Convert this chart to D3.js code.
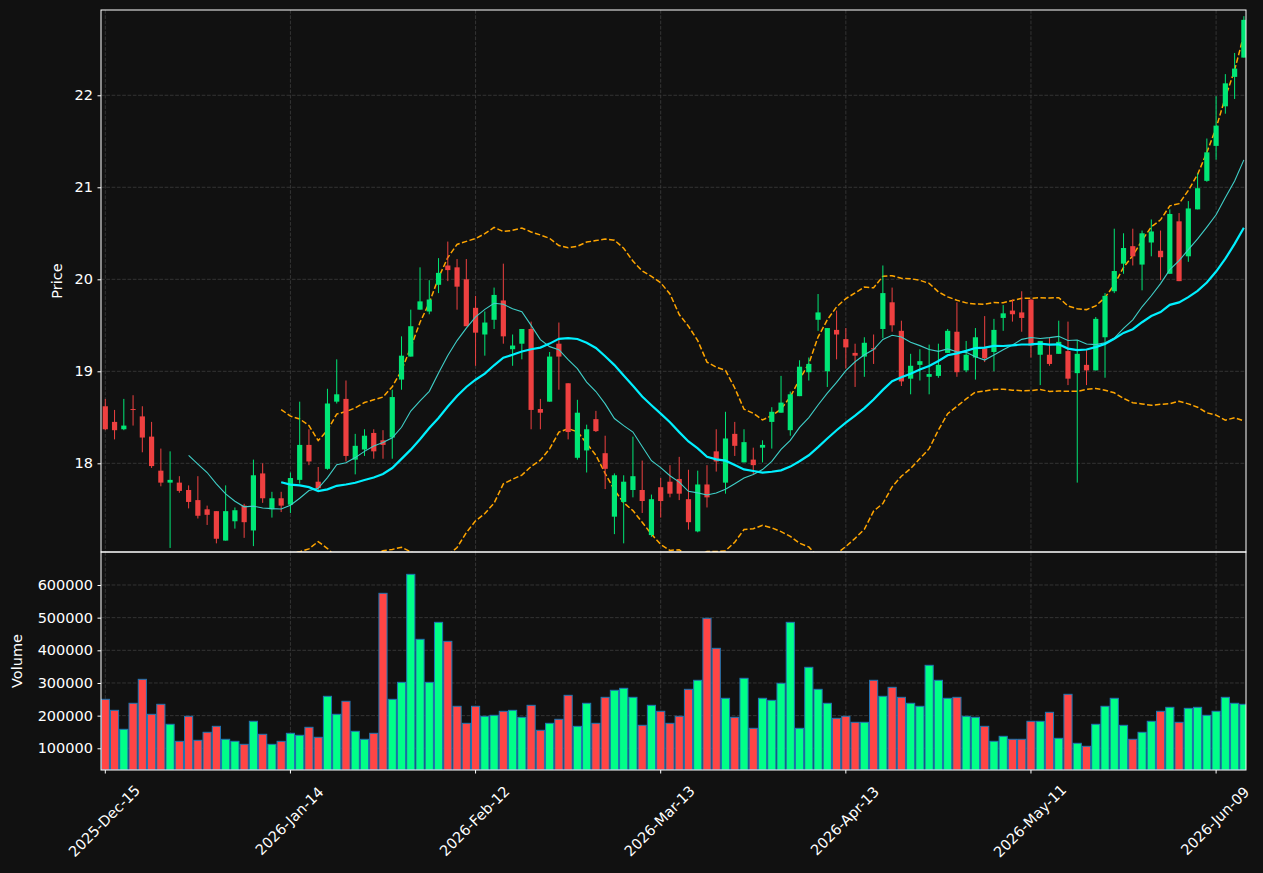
<!DOCTYPE html>
<html>
<head>
<meta charset="utf-8">
<script src="https://cdn.jsdelivr.net/npm/d3@7"></script>
<style>
  html, body { margin: 0; padding: 0; background: #111111; }
  svg { display: block; font-family: "DejaVu Sans", sans-serif; }
</style>
</head>
<body>
<svg id="chart" width="1263" height="873"></svg>
<script>
// tick labels on the date axis (every 20 sessions)
const tickIndex = [0, 20, 40, 60, 80, 100, 120];
const tickLabels = ["2025-Dec-15", "2026-Jan-14", "2026-Feb-12", "2026-Mar-13",
  "2026-Apr-13", "2026-May-11", "2026-Jun-09"];

const priceTicks = [18, 19, 20, 21, 22];
const volumeTicks = [100000, 200000, 300000, 400000, 500000, 600000];

const open = [18.62, 18.45, 18.37, 18.59, 18.51, 18.29, 17.92, 17.79, 17.79, 17.71,
  17.60, 17.50, 17.48, 17.16, 17.37, 17.54, 17.27, 17.89, 17.50, 17.62,
  17.55, 17.82, 18.20, 17.80, 17.94, 18.67, 18.70, 18.04, 18.15, 18.33,
  18.25, 18.28, 18.91, 19.16, 19.67, 19.65, 19.94, 20.15, 20.13, 20.00,
  19.69, 19.40, 19.56, 19.77, 19.24, 19.30, 19.46, 18.59, 18.67, 19.30,
  18.87, 18.06, 18.14, 18.48, 18.11, 17.42, 17.58, 17.71, 17.71, 17.22,
  17.74, 17.80, 17.83, 17.61, 17.26, 17.77, 18.13, 17.79, 18.32, 18.01,
  18.04, 18.17, 18.45, 18.55, 18.36, 18.73, 18.99, 19.56, 19.00, 19.45,
  19.35, 19.20, 19.16, 19.25, 19.46, 19.75, 19.44, 18.92, 19.07, 18.94,
  18.95, 19.20, 19.43, 19.01, 19.15, 19.25, 19.21, 19.58, 19.66, 19.64,
  19.78, 19.18, 19.18, 19.19, 19.22, 18.98, 19.07, 19.01, 19.37, 19.87,
  20.17, 20.36, 20.16, 20.40, 20.31, 20.06, 20.63, 20.25, 20.76, 21.07,
  21.45, 21.88, 22.20, 22.41];

const high = [18.70, 18.58, 18.70, 18.74, 18.62, 18.45, 18.16, 18.13, 17.86, 17.76,
  17.86, 17.54, 17.48, 17.76, 17.52, 17.56, 18.04, 18.00, 17.69, 17.69,
  17.90, 18.67, 18.37, 17.96, 18.81, 19.13, 18.90, 18.32, 18.37, 18.37,
  18.36, 18.80, 19.38, 19.67, 20.13, 19.99, 20.23, 20.41, 20.22, 20.22,
  19.82, 19.65, 19.91, 20.17, 19.40, 19.46, 19.54, 18.70, 19.21, 19.53,
  18.87, 18.69, 18.42, 18.57, 18.30, 17.89, 17.87, 18.29, 18.03, 17.66,
  17.84, 17.98, 18.07, 17.93, 17.92, 17.98, 18.37, 18.56, 18.45, 18.37,
  18.17, 18.25, 18.61, 18.95, 18.78, 19.12, 19.15, 19.84, 19.47, 19.66,
  19.47, 19.30, 19.37, 19.40, 20.15, 19.91, 19.55, 19.19, 19.24, 19.29,
  19.30, 19.46, 19.75, 19.33, 19.47, 19.60, 19.57, 19.72, 19.78, 19.87,
  19.78, 19.33, 19.37, 19.55, 19.54, 19.34, 19.23, 19.59, 19.85, 20.55,
  20.50, 20.55, 20.53, 20.65, 20.53, 20.76, 20.72, 20.85, 21.15, 21.53,
  21.99, 22.23, 22.46, 22.86];

const low = [18.36, 18.26, 18.36, 18.41, 18.12, 17.95, 17.75, 17.08, 17.68, 17.51,
  17.40, 17.33, 17.13, 17.16, 17.29, 17.19, 17.10, 17.57, 17.41, 17.47,
  17.46, 17.78, 17.98, 17.71, 17.93, 18.65, 18.02, 17.88, 18.08, 18.05,
  18.05, 18.05, 18.80, 19.16, 19.67, 19.62, 19.85, 19.98, 19.67, 19.49,
  19.06, 19.17, 19.46, 19.30, 19.06, 19.13, 18.37, 18.37, 18.67, 18.80,
  18.26, 18.04, 17.90, 18.34, 17.72, 17.23, 17.13, 17.63, 17.46, 17.20,
  17.41, 17.63, 17.60, 17.28, 17.25, 17.52, 17.91, 17.67, 18.08, 18.01,
  17.88, 18.01, 18.16, 18.55, 18.30, 18.73, 18.90, 19.44, 18.83, 19.13,
  19.03, 18.83, 18.94, 19.08, 19.36, 19.43, 18.84, 18.75, 18.90, 18.75,
  18.93, 19.20, 18.94, 18.99, 18.91, 19.10, 19.00, 19.44, 19.54, 19.43,
  19.15, 18.85, 19.06, 19.19, 18.85, 17.79, 18.85, 19.01, 18.93, 19.85,
  20.06, 20.15, 19.88, 20.25, 19.99, 20.06, 19.98, 20.19, 20.76, 21.06,
  21.30, 21.80, 21.96, 22.41];

const close = [18.37, 18.36, 18.41, 18.58, 18.28, 17.97, 17.79, 17.82, 17.70, 17.58,
  17.43, 17.44, 17.18, 17.48, 17.49, 17.36, 17.87, 17.62, 17.62, 17.54,
  17.84, 18.20, 18.02, 17.73, 18.65, 18.75, 18.08, 18.19, 18.30, 18.13,
  18.20, 18.72, 19.17, 19.49, 19.76, 19.78, 20.07, 20.10, 19.92, 19.49,
  19.42, 19.53, 19.83, 19.38, 19.28, 19.46, 18.58, 18.55, 19.16, 19.16,
  18.34, 18.55, 18.37, 18.35, 17.94, 17.87, 17.80, 17.86, 17.59, 17.61,
  17.59, 17.67, 17.67, 17.36, 17.77, 17.63, 18.02, 18.27, 18.19, 18.23,
  17.98, 18.20, 18.56, 18.66, 18.75, 19.05, 19.08, 19.64, 19.47, 19.40,
  19.26, 19.17, 19.31, 19.24, 19.85, 19.50, 18.89, 19.06, 19.11, 18.97,
  19.07, 19.44, 18.99, 19.18, 19.37, 19.14, 19.45, 19.63, 19.62, 19.58,
  19.28, 19.33, 19.08, 19.32, 18.92, 19.19, 19.01, 19.57, 19.82, 20.09,
  20.34, 20.25, 20.50, 20.52, 20.24, 20.71, 19.98, 20.77, 20.99, 21.38,
  21.67, 22.13, 22.29, 22.82];

const volume = [250000, 216300, 158200, 237800, 311200, 204100, 234700, 173500, 121400, 198000,
  124500, 149000, 167300, 127600, 121400, 112200, 182700, 142900, 112200, 121400,
  145900, 139800, 164300, 133700, 259200, 204100, 243900, 152000, 127600, 145900,
  574500, 250000, 302000, 632600, 433700, 302000, 485700, 427500, 228600, 176500,
  228600, 198000, 201000, 213300, 216300, 194900, 231600, 155100, 176500, 188800,
  262200, 167300, 237800, 176500, 256100, 277600, 283700, 256100, 170400, 231600,
  213300, 176500, 198000, 280600, 308200, 498000, 406100, 253100, 194900, 314300,
  161200, 253100, 246900, 299000, 485700, 161200, 348000, 280600, 237800, 191800,
  198000, 179600, 179600, 308200, 259200, 286700, 256100, 237800, 228600, 354100,
  308200, 253100, 256100, 198000, 194900, 167300, 121400, 136700, 127600, 127600,
  182700, 182700, 210200, 130600, 265300, 115300, 106100, 173500, 228600, 253100,
  170400, 127600, 149000, 182700, 213300, 225500, 179600, 222400, 225500, 201000,
  213300, 256100, 237800, 234700];

const upColor = "#00e676";
const downColor = "#ee4040";
const volUp = "#00ff88";
const volDown = "#ff4545";
const fontSize = 14.5;

const svg = d3.select("#chart");
const left = 101, right = 1246;
const priceTop = 10, priceBottom = 552, volTop = 552, volBottom = 770;

const x = d3.scaleLinear().domain([-0.465, 123.23]).range([left, right]);
const step = x(1) - x(0);
const y = d3.scaleLinear().domain([17.036, 22.927]).range([priceBottom, priceTop]);
const yv = d3.scaleLinear().domain([33560, 701000]).range([volBottom, volTop]);

const candles = d3.range(close.length).map(i => ({
  i, o: open[i], h: high[i], l: low[i], c: close[i], v: volume[i]
}));

// rolling mean / bollinger computed from the closes
function rolling(n) {
  return candles.slice(n - 1).map(d => {
    const win = close.slice(d.i - n + 1, d.i + 1);
    const m = d3.mean(win);
    const sd = Math.sqrt(d3.mean(win, v => (v - m) * (v - m)));
    return {i: d.i, m, up: m + 2 * sd, lo: m - 2 * sd};
  });
}
const ma10 = rolling(10);
const ma20 = rolling(20);

const defs = svg.append("defs");
defs.append("clipPath").attr("id", "clipPrice")
  .append("rect").attr("x", left).attr("y", priceTop)
    .attr("width", right - left).attr("height", priceBottom - priceTop);
defs.append("clipPath").attr("id", "clipVol")
  .append("rect").attr("x", left).attr("y", volTop)
    .attr("width", right - left).attr("height", volBottom - volTop);

// grid
function grid(top, bottom, ys, scale) {
  const g = svg.append("g")
      .attr("stroke", "#3c3c3c")
      .attr("stroke-width", 0.8)
      .attr("stroke-dasharray", "3.7,1.6");
  g.selectAll("line.v").data(tickIndex).join("line")
      .attr("x1", d => x(d)).attr("x2", d => x(d))
      .attr("y1", top).attr("y2", bottom);
  g.selectAll("line.h").data(ys).join("line")
      .attr("x1", left).attr("x2", right)
      .attr("y1", d => scale(d)).attr("y2", d => scale(d));
}
grid(priceTop, priceBottom, priceTicks, y);
grid(volTop, volBottom, volumeTicks, yv);

// price panel
const pricePlot = svg.append("g").attr("clip-path", "url(#clipPrice)");

pricePlot.append("path")
    .datum(ma20)
    .attr("fill", "none")
    .attr("stroke", "#ffa500")
    .attr("stroke-width", 1.5)
    .attr("stroke-dasharray", "5.5,2.4")
    .attr("d", d3.line().x(d => x(d.i)).y(d => y(d.up)));
pricePlot.append("path")
    .datum(ma20)
    .attr("fill", "none")
    .attr("stroke", "#ffa500")
    .attr("stroke-width", 1.5)
    .attr("stroke-dasharray", "5.5,2.4")
    .attr("d", d3.line().x(d => x(d.i)).y(d => y(d.lo)));

const bodyW = step * 0.56;
const candle = pricePlot.append("g")
  .selectAll("g")
  .data(candles)
  .join("g")
    .attr("fill", d => d.c >= d.o ? upColor : downColor)
    .attr("stroke", d => d.c >= d.o ? upColor : downColor);

candle.append("line")
    .attr("x1", d => x(d.i)).attr("x2", d => x(d.i))
    .attr("y1", d => y(d.h)).attr("y2", d => y(d.l))
    .attr("stroke-width", 1);

candle.append("rect")
    .attr("x", d => x(d.i) - bodyW / 2)
    .attr("width", bodyW)
    .attr("y", d => y(Math.max(d.o, d.c)))
    .attr("height", d => Math.max(1, Math.abs(y(d.o) - y(d.c))))
    .attr("stroke", "none");

pricePlot.append("path")
    .datum(ma10)
    .attr("fill", "none")
    .attr("stroke", "#3fcfc8")
    .attr("stroke-width", 1.1)
    .attr("d", d3.line().x(d => x(d.i)).y(d => y(d.m)));
pricePlot.append("path")
    .datum(ma20)
    .attr("fill", "none")
    .attr("stroke", "#00f0ff")
    .attr("stroke-width", 2.2)
    .attr("d", d3.line().x(d => x(d.i)).y(d => y(d.m)));

// volume panel
const barW = step * 0.88;
svg.append("g")
    .attr("clip-path", "url(#clipVol)")
  .selectAll("rect")
  .data(candles)
  .join("rect")
    .attr("x", d => x(d.i) - barW / 2)
    .attr("width", barW)
    .attr("y", d => yv(d.v))
    .attr("height", d => volBottom - yv(d.v))
    .attr("fill", d => d.c >= d.o ? volUp : volDown)
    .attr("stroke", "#1f77b4")
    .attr("stroke-width", 1);

// frames
[[priceTop, priceBottom], [volTop, volBottom]].forEach(([t, b]) => {
  svg.append("rect")
      .attr("x", left).attr("y", t)
      .attr("width", right - left).attr("height", b - t)
      .attr("fill", "none")
      .attr("stroke", "#ffffff")
      .attr("stroke-width", 1);
});

// y axes
function yAxis(scale, ticks) {
  svg.append("g")
      .attr("transform", "translate(" + left + ",0)")
      .call(d3.axisLeft(scale).tickValues(ticks).tickSize(3.5).tickPadding(4.5)
        .tickFormat(d3.format("d")))
      .call(g => g.select(".domain").remove())
      .call(g => g.selectAll("line").attr("stroke", "#ffffff"))
      .call(g => g.selectAll("text")
        .attr("fill", "#ffffff")
        .attr("font-size", fontSize)
        .attr("font-family", "DejaVu Sans"));
}
yAxis(y, priceTicks);
yAxis(yv, volumeTicks);

svg.append("text")
    .attr("transform", "translate(57," + (priceTop + priceBottom) / 2 + ") rotate(-90)")
    .attr("text-anchor", "middle")
    .attr("dominant-baseline", "central")
    .attr("fill", "#ffffff")
    .attr("font-size", fontSize)
    .text("Price");
svg.append("text")
    .attr("transform", "translate(17," + (volTop + volBottom) / 2 + ") rotate(-90)")
    .attr("text-anchor", "middle")
    .attr("dominant-baseline", "central")
    .attr("fill", "#ffffff")
    .attr("font-size", fontSize)
    .text("Volume");

// x axis with rotated date labels
const xg = svg.append("g");
xg.selectAll("line")
  .data(tickIndex)
  .join("line")
    .attr("x1", d => x(d)).attr("x2", d => x(d))
    .attr("y1", volBottom).attr("y2", volBottom + 3.5)
    .attr("stroke", "#ffffff");
xg.selectAll("text")
  .data(tickIndex)
  .join("text")
    .attr("transform", d => "translate(" + (x(d) - 1) + "," + 821 + ") rotate(-45)")
    .attr("text-anchor", "middle")
    .attr("dominant-baseline", "central")
    .attr("fill", "#ffffff")
    .attr("font-size", fontSize)
    .text((d, k) => tickLabels[k]);
</script>
</body>
</html>
